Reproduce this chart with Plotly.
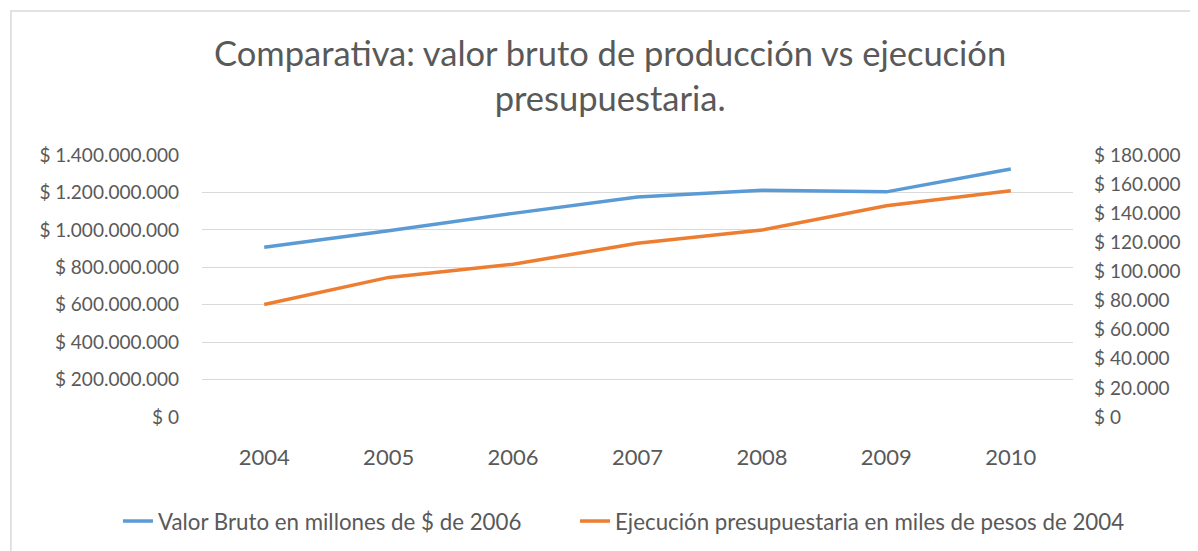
import plotly.graph_objects as go

years = ["2004", "2005", "2006", "2007", "2008", "2009", "2010"]
valor_bruto = [907e6, 995e6, 1088e6, 1176e6, 1212e6, 1203e6, 1325e6]
ejecucion = [77300, 95900, 105000, 119300, 128400, 145100, 155400]

name_vb = "Valor Bruto en millones de $ de 2006"
name_ej = "Ejecución presupuestaria en miles de pesos de 2004"
title = "Comparativa: valor bruto de producción vs ejecución<br>presupuestaria."

font_fam = "Lato, 'Open Sans', sans-serif"
gray = "#595959"

fig = go.Figure()
fig.add_trace(go.Scatter(x=years, y=valor_bruto, name=name_vb, mode="lines",
                         line=dict(color="#5B9BD5", width=3.5), yaxis="y",
                         legend="legend", showlegend=True))
fig.add_trace(go.Scatter(x=years, y=ejecucion, name=name_ej, mode="lines",
                         line=dict(color="#ED7D31", width=3.5), yaxis="y2",
                         legend="legend2", showlegend=True))

leg_common = dict(orientation="h", xref="container", yref="container",
                  xanchor="left", y=0.0552, yanchor="middle",
                  font=dict(size=22.3, color=gray), bgcolor="rgba(0,0,0,0)",
                  visible=True)

fig.update_layout(
    width=1190, height=543,
    margin=dict(l=194, r=125, t=147, b=134),
    paper_bgcolor="white", plot_bgcolor="white",
    separators=",.",
    showlegend=True,
    font=dict(family=font_fam, color=gray, size=16),
    title=dict(text=title, x=0.506, xanchor="center", y=0.893, yanchor="top",
               font=dict(size=34.5, color=gray, family=font_fam)),
    xaxis=dict(type="category", range=[-0.5, 6.5], showgrid=False, showline=False,
               ticks="", ticklabelstandoff=25, tickfont=dict(size=22, color=gray)),
    yaxis=dict(range=[0, 1.4e9], dtick=2e8, tickprefix="$ ", tickformat=",d",
               showgrid=True, gridcolor="#D9D9D9", gridwidth=1.2, zeroline=False,
               showline=False, ticks="", ticklabelstandoff=22,
               tickfont=dict(size=19, color=gray)),
    yaxis2=dict(range=[0, 180000], dtick=20000, tickprefix="$ ", tickformat=",d",
                overlaying="y", side="right", showgrid=False, zeroline=False,
                showline=False, ticks="", ticklabelstandoff=20,
                tickfont=dict(size=19, color=gray)),
    legend=dict(x=0.0924, **leg_common),
    legend2=dict(x=0.4765, **leg_common),
    shapes=[dict(type="rect", xref="paper", yref="paper",
                 x0=-0.2194, x1=1.2, y0=-0.6, y1=1.55,
                 line=dict(color="#D9D9D9", width=1.5), fillcolor="rgba(0,0,0,0)",
                 layer="below")],
)

fig.write_html("out.html")
